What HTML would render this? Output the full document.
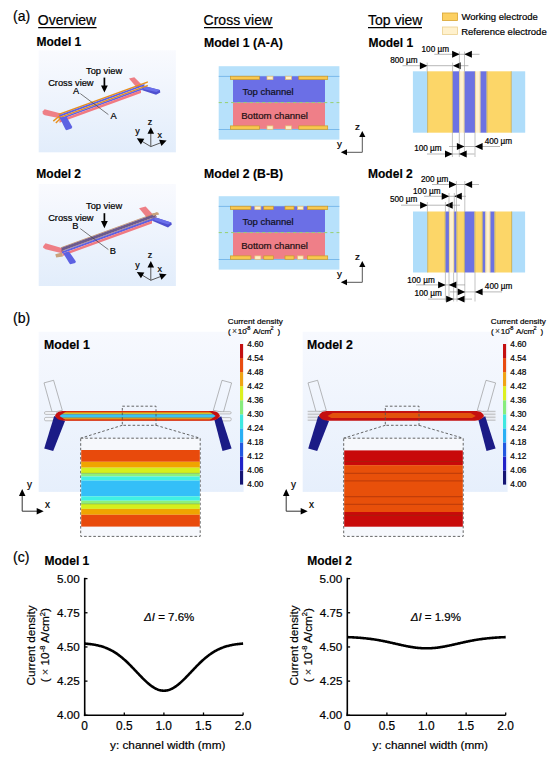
<!DOCTYPE html>
<html><head><meta charset="utf-8"><style>
html,body{margin:0;padding:0;background:#fff;}
svg{display:block;font-family:"Liberation Sans", sans-serif;}
</style></head><body>
<svg width="550" height="764" viewBox="0 0 550 764" font-family='"Liberation Sans", sans-serif'>
<rect x="0" y="0" width="550" height="764" fill="#fff"/>
<defs>
<linearGradient id="bg1" x1="0" y1="0" x2="0" y2="1"><stop offset="0" stop-color="#f9fafe"/><stop offset="1" stop-color="#e2edfb"/></linearGradient>
<linearGradient id="bg2" x1="0" y1="0" x2="0" y2="1"><stop offset="0" stop-color="#f7f9fe"/><stop offset="1" stop-color="#e6effc"/></linearGradient>
</defs>
<text x="13.06" y="20.60" font-size="14.0" font-weight="normal" font-style="normal" text-anchor="start" fill="#000" stroke="#000" stroke-width="0.2" >(a)</text>
<text x="37.80" y="25.10" font-size="14.0" font-weight="normal" font-style="normal" text-anchor="start" fill="#000" stroke="#000" stroke-width="0.2" >Overview</text>
<line x1="38.20" y1="27.60" x2="96.60" y2="27.60" stroke="#000" stroke-width="1.1" />
<text x="203.60" y="25.10" font-size="14.0" font-weight="normal" font-style="normal" text-anchor="start" fill="#000" stroke="#000" stroke-width="0.2" >Cross view</text>
<line x1="204.00" y1="27.60" x2="272.80" y2="27.60" stroke="#000" stroke-width="1.1" />
<text x="368.02" y="25.10" font-size="14.0" font-weight="normal" font-style="normal" text-anchor="start" fill="#000" stroke="#000" stroke-width="0.2" >Top view</text>
<line x1="368.00" y1="27.60" x2="422.00" y2="27.60" stroke="#000" stroke-width="1.1" />
<rect x="442.50" y="13.00" width="15.00" height="7.50" fill="#fcd062" stroke="#d8a431" stroke-width="0.8" />
<text x="461.40" y="20.40" font-size="9.5" font-weight="normal" font-style="normal" text-anchor="start" fill="#000" stroke="#000" stroke-width="0.2" >Working electrode</text>
<rect x="442.50" y="27.00" width="15.00" height="7.50" fill="#fff1cd" stroke="#ecd08e" stroke-width="0.8" />
<text x="461.14" y="34.50" font-size="9.5" font-weight="normal" font-style="normal" text-anchor="start" fill="#000" stroke="#000" stroke-width="0.2" >Reference electrode</text>
<text x="36.56" y="46.30" font-size="12.0" font-weight="bold" font-style="normal" text-anchor="start" fill="#000" stroke="#000" stroke-width="0.15" >Model 1</text>
<text x="203.94" y="46.50" font-size="12.25" font-weight="bold" font-style="normal" text-anchor="start" fill="#000" stroke="#000" stroke-width="0.15" >Model 1 (A-A)</text>
<text x="368.46" y="46.70" font-size="12.0" font-weight="bold" font-style="normal" text-anchor="start" fill="#000" stroke="#000" stroke-width="0.15" >Model 1</text>
<text x="36.36" y="178.20" font-size="12.0" font-weight="bold" font-style="normal" text-anchor="start" fill="#000" stroke="#000" stroke-width="0.15" >Model 2</text>
<text x="204.04" y="178.40" font-size="12.25" font-weight="bold" font-style="normal" text-anchor="start" fill="#000" stroke="#000" stroke-width="0.15" >Model 2 (B-B)</text>
<text x="368.06" y="178.20" font-size="12.0" font-weight="bold" font-style="normal" text-anchor="start" fill="#000" stroke="#000" stroke-width="0.15" >Model 2</text>
<rect x="38.70" y="50.30" width="137.20" height="102.00" fill="url(#bg1)" stroke="none" stroke-width="0" />
<polygon points="42.60,111.60 44.60,109.30 61.00,113.60 61.00,118.60 44.80,115.30 42.80,113.90" fill="#ee7f86" stroke="none" stroke-width="0" />
<polygon points="129.00,78.50 134.30,77.20 141.80,84.80 137.50,88.50" fill="#ee7f86" stroke="none" stroke-width="0" />
<polygon points="142.30,85.60 159.90,90.00 160.30,92.40 156.00,94.80 142.30,90.20" fill="#4f50cf" stroke="none" stroke-width="0" />
<polygon points="142.30,85.60 159.90,90.00 156.45,92.00 142.30,89.00" fill="#6a6fea" stroke="none" stroke-width="0" />
<polygon points="58.50,113.75 147.80,81.24 147.80,82.74 58.50,115.25" fill="#e8901c" stroke="none" stroke-width="0" />
<polygon points="59.20,114.99 144.50,83.94 144.50,85.84 59.20,116.89" fill="#5d61e2" stroke="none" stroke-width="0" />
<polygon points="58.50,117.15 147.80,84.64 147.80,86.14 58.50,118.65" fill="#e8901c" stroke="none" stroke-width="0" />
<polygon points="59.20,118.39 144.00,87.52 144.00,89.22 59.20,120.09" fill="#5d61e2" stroke="none" stroke-width="0" />
<polygon points="59.50,119.98 141.00,90.32 141.00,93.02 59.50,122.68" fill="#f07a82" stroke="none" stroke-width="0" />
<line x1="59.20" y1="116.20" x2="53.30" y2="121.10" stroke="#e8901c" stroke-width="1.4" />
<line x1="60.40" y1="118.60" x2="55.80" y2="123.00" stroke="#e8901c" stroke-width="1.4" />
<polygon points="59.60,117.60 66.60,116.80 72.30,127.00 71.50,128.60 66.50,130.20 65.50,129.60" fill="#5d61e2" stroke="none" stroke-width="0" />
<line x1="80.30" y1="93.60" x2="108.40" y2="114.60" stroke="#444" stroke-width="0.7" />
<text x="72.90" y="94.10" font-size="9.3" font-weight="normal" font-style="normal" text-anchor="start" fill="#000" stroke="#000" stroke-width="0.2" >A</text>
<text x="110.60" y="118.80" font-size="9.3" font-weight="normal" font-style="normal" text-anchor="start" fill="#000" stroke="#000" stroke-width="0.2" >A</text>
<text x="86.01" y="74.30" font-size="9.3" font-weight="normal" font-style="normal" text-anchor="start" fill="#000" stroke="#000" stroke-width="0.2" >Top view</text>
<text x="48.13" y="85.50" font-size="9.3" font-weight="normal" font-style="normal" text-anchor="start" fill="#000" stroke="#000" stroke-width="0.2" >Cross view</text>
<line x1="104.40" y1="77.60" x2="104.40" y2="87.00" stroke="#000" stroke-width="1.7" />
<polygon points="104.40,92.60 101.00,85.40 107.80,85.40" fill="#000" stroke="none" stroke-width="0" />
<line x1="150.80" y1="146.60" x2="150.80" y2="132.00" stroke="#555" stroke-width="1.0" />
<polygon points="150.80,127.30 147.50,133.80 154.10,133.80" fill="#000" stroke="none" stroke-width="0" />
<line x1="150.80" y1="146.60" x2="141.09" y2="140.77" stroke="#555" stroke-width="1.0" />
<polygon points="136.80,138.20 144.33,138.87 140.93,144.53" fill="#000" stroke="none" stroke-width="0" />
<line x1="150.80" y1="146.60" x2="161.94" y2="142.30" stroke="#555" stroke-width="1.0" />
<polygon points="166.60,140.50 161.44,146.03 159.07,139.87" fill="#000" stroke="none" stroke-width="0" />
<text x="147.64" y="124.60" font-size="9.0" font-weight="normal" font-style="normal" text-anchor="start" fill="#000" stroke="#000" stroke-width="0.2" >z</text>
<text x="135.30" y="134.40" font-size="9.0" font-weight="normal" font-style="normal" text-anchor="start" fill="#000" stroke="#000" stroke-width="0.2" >y</text>
<text x="157.51" y="138.30" font-size="9.0" font-weight="normal" font-style="normal" text-anchor="start" fill="#000" stroke="#000" stroke-width="0.2" >x</text>
<rect x="38.70" y="184.00" width="137.20" height="102.00" fill="url(#bg1)" stroke="none" stroke-width="0" />
<polygon points="43.00,246.50 45.50,243.30 63.50,248.60 63.00,253.50 45.50,249.20 43.20,247.80" fill="#ee7f86" stroke="none" stroke-width="0" />
<polygon points="139.10,208.20 145.60,206.50 153.00,214.50 148.00,219.00" fill="#ee7f86" stroke="none" stroke-width="0" />
<polygon points="152.70,216.40 171.30,222.40 171.80,224.50 168.00,227.50 152.70,221.00" fill="#4f50cf" stroke="none" stroke-width="0" />
<polygon points="152.70,216.40 171.30,222.40 168.15,224.55 152.70,219.80" fill="#6a6fea" stroke="none" stroke-width="0" />
<polygon points="61.00,247.14 157.00,212.19 157.00,213.09 61.00,248.04" fill="#c89060" stroke="none" stroke-width="0" />
<polygon points="61.50,247.85 156.00,213.46 156.00,216.56 61.50,250.95" fill="#6c5a8c" stroke="none" stroke-width="0" />
<polygon points="61.00,251.14 157.00,216.19 157.00,216.89 61.00,251.84" fill="#9a6a70" stroke="none" stroke-width="0" />
<polygon points="62.00,251.47 154.50,217.80 154.50,219.90 62.00,253.57" fill="#5d61e2" stroke="none" stroke-width="0" />
<polygon points="62.50,253.39 152.00,220.81 152.00,223.51 62.50,256.09" fill="#f07a82" stroke="none" stroke-width="0" />
<polygon points="55.30,254.20 61.80,252.60 63.00,256.40 56.20,257.60" fill="#c9a27c" stroke="none" stroke-width="0" />
<polygon points="152.00,213.60 158.00,212.20 159.20,214.40 153.00,215.90" fill="#c9a27c" stroke="none" stroke-width="0" />
<polygon points="63.00,252.90 68.90,251.40 75.90,261.40 75.20,263.00 70.30,264.30 69.50,263.60" fill="#5d61e2" stroke="none" stroke-width="0" />
<line x1="80.30" y1="228.60" x2="108.40" y2="249.60" stroke="#444" stroke-width="0.7" />
<text x="72.16" y="229.10" font-size="9.3" font-weight="normal" font-style="normal" text-anchor="start" fill="#000" stroke="#000" stroke-width="0.2" >B</text>
<text x="109.86" y="253.80" font-size="9.3" font-weight="normal" font-style="normal" text-anchor="start" fill="#000" stroke="#000" stroke-width="0.2" >B</text>
<text x="86.01" y="209.30" font-size="9.3" font-weight="normal" font-style="normal" text-anchor="start" fill="#000" stroke="#000" stroke-width="0.2" >Top view</text>
<text x="48.13" y="220.50" font-size="9.3" font-weight="normal" font-style="normal" text-anchor="start" fill="#000" stroke="#000" stroke-width="0.2" >Cross view</text>
<line x1="104.40" y1="213.20" x2="104.40" y2="222.60" stroke="#000" stroke-width="1.7" />
<polygon points="104.40,228.20 101.00,221.00 107.80,221.00" fill="#000" stroke="none" stroke-width="0" />
<line x1="150.80" y1="280.30" x2="150.80" y2="265.70" stroke="#555" stroke-width="1.0" />
<polygon points="150.80,261.00 147.50,267.50 154.10,267.50" fill="#000" stroke="none" stroke-width="0" />
<line x1="150.80" y1="280.30" x2="141.09" y2="274.47" stroke="#555" stroke-width="1.0" />
<polygon points="136.80,271.90 144.33,272.57 140.93,278.23" fill="#000" stroke="none" stroke-width="0" />
<line x1="150.80" y1="280.30" x2="161.94" y2="276.00" stroke="#555" stroke-width="1.0" />
<polygon points="166.60,274.20 161.44,279.73 159.07,273.57" fill="#000" stroke="none" stroke-width="0" />
<text x="147.64" y="258.30" font-size="9.0" font-weight="normal" font-style="normal" text-anchor="start" fill="#000" stroke="#000" stroke-width="0.2" >z</text>
<text x="135.30" y="268.10" font-size="9.0" font-weight="normal" font-style="normal" text-anchor="start" fill="#000" stroke="#000" stroke-width="0.2" >y</text>
<text x="157.51" y="272.00" font-size="9.0" font-weight="normal" font-style="normal" text-anchor="start" fill="#000" stroke="#000" stroke-width="0.2" >x</text>
<rect x="218.70" y="66.20" width="120.70" height="73.40" fill="#b7e1fb" stroke="none" stroke-width="0" />
<line x1="218.70" y1="76.40" x2="339.40" y2="76.40" stroke="#6aaee6" stroke-width="0.8" />
<line x1="218.70" y1="129.50" x2="339.40" y2="129.50" stroke="#6aaee6" stroke-width="0.8" />
<rect x="233.00" y="76.40" width="92.00" height="26.20" fill="#6b6fe6" stroke="none" stroke-width="0" />
<rect x="233.00" y="102.60" width="92.00" height="26.30" fill="#ef7f88" stroke="none" stroke-width="0" />
<line x1="218.70" y1="102.60" x2="339.40" y2="102.60" stroke="#98d070" stroke-width="1.0" stroke-dasharray="3.2,3"/>
<rect x="230.40" y="76.20" width="29.10" height="3.40" fill="#f9c84e" stroke="#c99a2a" stroke-width="0.7" />
<rect x="230.40" y="125.90" width="29.10" height="3.40" fill="#f9c84e" stroke="#c99a2a" stroke-width="0.7" />
<rect x="267.00" y="76.20" width="6.00" height="3.40" fill="#fff0c8" stroke="#e6c070" stroke-width="0.7" />
<rect x="267.00" y="125.90" width="6.00" height="3.40" fill="#fff0c8" stroke="#e6c070" stroke-width="0.7" />
<rect x="285.50" y="76.20" width="6.00" height="3.40" fill="#fff0c8" stroke="#e6c070" stroke-width="0.7" />
<rect x="285.50" y="125.90" width="6.00" height="3.40" fill="#fff0c8" stroke="#e6c070" stroke-width="0.7" />
<rect x="298.80" y="76.20" width="28.90" height="3.40" fill="#f9c84e" stroke="#c99a2a" stroke-width="0.7" />
<rect x="298.80" y="125.90" width="28.90" height="3.40" fill="#f9c84e" stroke="#c99a2a" stroke-width="0.7" />
<text x="242.51" y="94.90" font-size="9.5" font-weight="normal" font-style="normal" text-anchor="start" fill="#101020" stroke="#101020" stroke-width="0.2" >Top channel</text>
<text x="241.23" y="118.50" font-size="9.6" font-weight="normal" font-style="normal" text-anchor="start" fill="#201012" stroke="#201012" stroke-width="0.2" >Bottom channel</text>
<line x1="362.30" y1="152.30" x2="362.30" y2="136.00" stroke="#555" stroke-width="1.0" />
<line x1="362.30" y1="152.30" x2="346.50" y2="152.30" stroke="#555" stroke-width="1.0" />
<polygon points="362.30,131.10 359.20,137.10 365.40,137.10" fill="#000" stroke="none" stroke-width="0" />
<polygon points="340.80,152.30 347.00,149.30 347.00,155.30" fill="#000" stroke="none" stroke-width="0" />
<text x="354.91" y="129.60" font-size="9.8" font-weight="normal" font-style="normal" text-anchor="start" fill="#000" stroke="#000" stroke-width="0.2" >z</text>
<text x="337.10" y="147.30" font-size="9.8" font-weight="normal" font-style="normal" text-anchor="start" fill="#000" stroke="#000" stroke-width="0.2" >y</text>
<rect x="218.70" y="196.20" width="120.70" height="73.40" fill="#b7e1fb" stroke="none" stroke-width="0" />
<line x1="218.70" y1="206.40" x2="339.40" y2="206.40" stroke="#6aaee6" stroke-width="0.8" />
<line x1="218.70" y1="259.50" x2="339.40" y2="259.50" stroke="#6aaee6" stroke-width="0.8" />
<rect x="233.00" y="206.40" width="92.00" height="26.20" fill="#6b6fe6" stroke="none" stroke-width="0" />
<rect x="233.00" y="232.60" width="92.00" height="26.30" fill="#ef7f88" stroke="none" stroke-width="0" />
<line x1="218.70" y1="232.60" x2="339.40" y2="232.60" stroke="#98d070" stroke-width="1.0" stroke-dasharray="3.2,3"/>
<rect x="230.40" y="206.20" width="20.50" height="3.40" fill="#f9c84e" stroke="#c99a2a" stroke-width="0.7" />
<rect x="230.40" y="255.90" width="20.50" height="3.40" fill="#f9c84e" stroke="#c99a2a" stroke-width="0.7" />
<rect x="254.80" y="206.20" width="6.10" height="3.40" fill="#fff0c8" stroke="#e6c070" stroke-width="0.7" />
<rect x="254.80" y="255.90" width="6.10" height="3.40" fill="#fff0c8" stroke="#e6c070" stroke-width="0.7" />
<rect x="263.80" y="206.20" width="9.50" height="3.40" fill="#f9c84e" stroke="#c99a2a" stroke-width="0.7" />
<rect x="263.80" y="255.90" width="9.50" height="3.40" fill="#f9c84e" stroke="#c99a2a" stroke-width="0.7" />
<rect x="285.00" y="206.20" width="9.00" height="3.40" fill="#f9c84e" stroke="#c99a2a" stroke-width="0.7" />
<rect x="285.00" y="255.90" width="9.00" height="3.40" fill="#f9c84e" stroke="#c99a2a" stroke-width="0.7" />
<rect x="297.60" y="206.20" width="5.60" height="3.40" fill="#fff0c8" stroke="#e6c070" stroke-width="0.7" />
<rect x="297.60" y="255.90" width="5.60" height="3.40" fill="#fff0c8" stroke="#e6c070" stroke-width="0.7" />
<rect x="307.50" y="206.20" width="20.20" height="3.40" fill="#f9c84e" stroke="#c99a2a" stroke-width="0.7" />
<rect x="307.50" y="255.90" width="20.20" height="3.40" fill="#f9c84e" stroke="#c99a2a" stroke-width="0.7" />
<text x="242.51" y="224.90" font-size="9.5" font-weight="normal" font-style="normal" text-anchor="start" fill="#101020" stroke="#101020" stroke-width="0.2" >Top channel</text>
<text x="241.23" y="248.50" font-size="9.6" font-weight="normal" font-style="normal" text-anchor="start" fill="#201012" stroke="#201012" stroke-width="0.2" >Bottom channel</text>
<line x1="362.30" y1="282.30" x2="362.30" y2="266.00" stroke="#555" stroke-width="1.0" />
<line x1="362.30" y1="282.30" x2="346.50" y2="282.30" stroke="#555" stroke-width="1.0" />
<polygon points="362.30,261.10 359.20,267.10 365.40,267.10" fill="#000" stroke="none" stroke-width="0" />
<polygon points="340.80,282.30 347.00,279.30 347.00,285.30" fill="#000" stroke="none" stroke-width="0" />
<text x="354.91" y="259.60" font-size="9.8" font-weight="normal" font-style="normal" text-anchor="start" fill="#000" stroke="#000" stroke-width="0.2" >z</text>
<text x="337.10" y="277.30" font-size="9.8" font-weight="normal" font-style="normal" text-anchor="start" fill="#000" stroke="#000" stroke-width="0.2" >y</text>
<rect x="412.90" y="71.30" width="14.40" height="61.40" fill="#afddfa" stroke="none" stroke-width="0" />
<rect x="427.30" y="71.30" width="25.40" height="61.40" fill="#fcd668" stroke="none" stroke-width="0" />
<rect x="452.70" y="71.30" width="6.60" height="61.40" fill="#6c72e2" stroke="none" stroke-width="0" />
<rect x="459.30" y="71.30" width="5.10" height="61.40" fill="#fff1d0" stroke="none" stroke-width="0" />
<rect x="464.40" y="71.30" width="10.60" height="61.40" fill="#6c72e2" stroke="none" stroke-width="0" />
<rect x="475.00" y="71.30" width="5.40" height="61.40" fill="#fff1d0" stroke="none" stroke-width="0" />
<rect x="480.40" y="71.30" width="6.30" height="61.40" fill="#6c72e2" stroke="none" stroke-width="0" />
<rect x="486.70" y="71.30" width="24.90" height="61.40" fill="#fcd668" stroke="none" stroke-width="0" />
<rect x="511.60" y="71.30" width="13.60" height="61.40" fill="#afddfa" stroke="none" stroke-width="0" />
<line x1="427.60" y1="71.30" x2="427.60" y2="132.70" stroke="#a89a5a" stroke-width="0.6" />
<line x1="452.40" y1="71.30" x2="452.40" y2="132.70" stroke="#a89a5a" stroke-width="0.6" />
<line x1="459.60" y1="71.30" x2="459.60" y2="132.70" stroke="#d8bd6a" stroke-width="0.6" />
<line x1="464.10" y1="71.30" x2="464.10" y2="132.70" stroke="#d8bd6a" stroke-width="0.6" />
<line x1="475.30" y1="71.30" x2="475.30" y2="132.70" stroke="#d8bd6a" stroke-width="0.6" />
<line x1="480.10" y1="71.30" x2="480.10" y2="132.70" stroke="#d8bd6a" stroke-width="0.6" />
<line x1="487.00" y1="71.30" x2="487.00" y2="132.70" stroke="#a89a5a" stroke-width="0.6" />
<line x1="511.30" y1="71.30" x2="511.30" y2="132.70" stroke="#a89a5a" stroke-width="0.6" />
<rect x="413.00" y="211.50" width="14.40" height="61.00" fill="#afddfa" stroke="none" stroke-width="0" />
<rect x="427.40" y="211.50" width="18.00" height="61.00" fill="#fcd668" stroke="none" stroke-width="0" />
<rect x="445.40" y="211.50" width="3.60" height="61.00" fill="#6c72e2" stroke="none" stroke-width="0" />
<rect x="449.00" y="211.50" width="5.10" height="61.00" fill="#fff1d0" stroke="none" stroke-width="0" />
<rect x="454.10" y="211.50" width="2.50" height="61.00" fill="#6c72e2" stroke="none" stroke-width="0" />
<rect x="456.60" y="211.50" width="8.10" height="61.00" fill="#fcd668" stroke="none" stroke-width="0" />
<rect x="464.70" y="211.50" width="9.90" height="61.00" fill="#6c72e2" stroke="none" stroke-width="0" />
<rect x="474.60" y="211.50" width="8.00" height="61.00" fill="#fcd668" stroke="none" stroke-width="0" />
<rect x="482.60" y="211.50" width="2.90" height="61.00" fill="#6c72e2" stroke="none" stroke-width="0" />
<rect x="485.50" y="211.50" width="4.80" height="61.00" fill="#fff1d0" stroke="none" stroke-width="0" />
<rect x="490.30" y="211.50" width="4.30" height="61.00" fill="#6c72e2" stroke="none" stroke-width="0" />
<rect x="494.60" y="211.50" width="17.40" height="61.00" fill="#fcd668" stroke="none" stroke-width="0" />
<rect x="512.00" y="211.50" width="13.10" height="61.00" fill="#afddfa" stroke="none" stroke-width="0" />
<line x1="427.70" y1="211.50" x2="427.70" y2="272.50" stroke="#a89a5a" stroke-width="0.6" />
<line x1="445.10" y1="211.50" x2="445.10" y2="272.50" stroke="#a89a5a" stroke-width="0.6" />
<line x1="449.30" y1="211.50" x2="449.30" y2="272.50" stroke="#d8bd6a" stroke-width="0.6" />
<line x1="453.80" y1="211.50" x2="453.80" y2="272.50" stroke="#d8bd6a" stroke-width="0.6" />
<line x1="456.90" y1="211.50" x2="456.90" y2="272.50" stroke="#a89a5a" stroke-width="0.6" />
<line x1="464.40" y1="211.50" x2="464.40" y2="272.50" stroke="#a89a5a" stroke-width="0.6" />
<line x1="474.90" y1="211.50" x2="474.90" y2="272.50" stroke="#a89a5a" stroke-width="0.6" />
<line x1="482.30" y1="211.50" x2="482.30" y2="272.50" stroke="#a89a5a" stroke-width="0.6" />
<line x1="485.80" y1="211.50" x2="485.80" y2="272.50" stroke="#d8bd6a" stroke-width="0.6" />
<line x1="490.00" y1="211.50" x2="490.00" y2="272.50" stroke="#d8bd6a" stroke-width="0.6" />
<line x1="494.90" y1="211.50" x2="494.90" y2="272.50" stroke="#a89a5a" stroke-width="0.6" />
<line x1="511.70" y1="211.50" x2="511.70" y2="272.50" stroke="#a89a5a" stroke-width="0.6" />
<text x="421.54" y="51.70" font-size="8.2" font-weight="normal" font-style="normal" text-anchor="start" fill="#000" stroke="#000" stroke-width="0.2" >100 µm</text>
<line x1="434.30" y1="54.30" x2="479.50" y2="54.30" stroke="#9a9a9a" stroke-width="0.7" />
<polygon points="459.70,54.30 452.10,50.85 452.10,57.75" fill="#000" stroke="none" stroke-width="0" />
<polygon points="464.30,54.30 471.90,50.85 471.90,57.75" fill="#000" stroke="none" stroke-width="0" />
<text x="390.17" y="62.50" font-size="8.2" font-weight="normal" font-style="normal" text-anchor="start" fill="#000" stroke="#000" stroke-width="0.2" >800 µm</text>
<line x1="402.50" y1="65.70" x2="468.40" y2="65.70" stroke="#9a9a9a" stroke-width="0.7" />
<polygon points="427.50,65.70 419.90,62.25 419.90,69.15" fill="#000" stroke="none" stroke-width="0" />
<polygon points="453.00,65.70 460.60,62.25 460.60,69.15" fill="#000" stroke="none" stroke-width="0" />
<line x1="427.20" y1="62.60" x2="427.20" y2="71.30" stroke="#9a9a9a" stroke-width="0.6" />
<line x1="452.60" y1="62.60" x2="452.60" y2="71.30" stroke="#9a9a9a" stroke-width="0.6" />
<line x1="459.40" y1="51.60" x2="459.40" y2="71.30" stroke="#9a9a9a" stroke-width="0.6" />
<line x1="464.50" y1="51.60" x2="464.50" y2="71.30" stroke="#9a9a9a" stroke-width="0.6" />
<line x1="452.40" y1="132.70" x2="452.40" y2="157.00" stroke="#9a9a9a" stroke-width="0.6" />
<line x1="459.30" y1="132.70" x2="459.30" y2="157.00" stroke="#9a9a9a" stroke-width="0.6" />
<line x1="464.40" y1="132.70" x2="464.40" y2="157.00" stroke="#9a9a9a" stroke-width="0.6" />
<line x1="475.00" y1="132.70" x2="475.00" y2="157.00" stroke="#9a9a9a" stroke-width="0.6" />
<text x="484.64" y="143.80" font-size="8.2" font-weight="normal" font-style="normal" text-anchor="start" fill="#000" stroke="#000" stroke-width="0.2" >400 µm</text>
<line x1="449.00" y1="146.50" x2="500.00" y2="146.50" stroke="#9a9a9a" stroke-width="0.7" />
<polygon points="464.50,146.50 456.90,143.05 456.90,149.95" fill="#000" stroke="none" stroke-width="0" />
<polygon points="475.00,146.50 482.60,143.05 482.60,149.95" fill="#000" stroke="none" stroke-width="0" />
<text x="414.14" y="151.00" font-size="8.2" font-weight="normal" font-style="normal" text-anchor="start" fill="#000" stroke="#000" stroke-width="0.2" >100 µm</text>
<line x1="427.00" y1="154.00" x2="474.50" y2="154.00" stroke="#9a9a9a" stroke-width="0.7" />
<polygon points="452.60,154.00 445.00,150.55 445.00,157.45" fill="#000" stroke="none" stroke-width="0" />
<polygon points="459.10,154.00 466.70,150.55 466.70,157.45" fill="#000" stroke="none" stroke-width="0" />
<text x="420.89" y="182.10" font-size="8.2" font-weight="normal" font-style="normal" text-anchor="start" fill="#000" stroke="#000" stroke-width="0.2" >200 µm</text>
<line x1="432.00" y1="184.50" x2="479.00" y2="184.50" stroke="#9a9a9a" stroke-width="0.7" />
<polygon points="456.60,184.50 449.00,181.05 449.00,187.95" fill="#000" stroke="none" stroke-width="0" />
<polygon points="464.50,184.50 472.10,181.05 472.10,187.95" fill="#000" stroke="none" stroke-width="0" />
<text x="413.04" y="193.90" font-size="8.2" font-weight="normal" font-style="normal" text-anchor="start" fill="#000" stroke="#000" stroke-width="0.2" >100 µm</text>
<line x1="424.00" y1="196.30" x2="466.00" y2="196.30" stroke="#9a9a9a" stroke-width="0.7" />
<polygon points="449.30,196.30 441.70,192.85 441.70,199.75" fill="#000" stroke="none" stroke-width="0" />
<polygon points="454.20,196.30 461.80,192.85 461.80,199.75" fill="#000" stroke="none" stroke-width="0" />
<text x="389.92" y="202.10" font-size="8.2" font-weight="normal" font-style="normal" text-anchor="start" fill="#000" stroke="#000" stroke-width="0.2" >500 µm</text>
<line x1="401.00" y1="205.20" x2="460.00" y2="205.20" stroke="#9a9a9a" stroke-width="0.7" />
<polygon points="427.70,205.20 420.10,201.75 420.10,208.65" fill="#000" stroke="none" stroke-width="0" />
<polygon points="445.10,205.20 452.70,201.75 452.70,208.65" fill="#000" stroke="none" stroke-width="0" />
<line x1="427.40" y1="202.00" x2="427.40" y2="211.50" stroke="#9a9a9a" stroke-width="0.6" />
<line x1="445.40" y1="202.00" x2="445.40" y2="211.50" stroke="#9a9a9a" stroke-width="0.6" />
<line x1="449.00" y1="193.00" x2="449.00" y2="211.50" stroke="#9a9a9a" stroke-width="0.6" />
<line x1="454.30" y1="193.00" x2="454.30" y2="211.50" stroke="#9a9a9a" stroke-width="0.6" />
<line x1="456.40" y1="181.00" x2="456.40" y2="211.50" stroke="#9a9a9a" stroke-width="0.6" />
<line x1="464.80" y1="181.00" x2="464.80" y2="211.50" stroke="#9a9a9a" stroke-width="0.6" />
<line x1="445.40" y1="272.50" x2="445.40" y2="301.50" stroke="#9a9a9a" stroke-width="0.6" />
<line x1="449.00" y1="272.50" x2="449.00" y2="301.50" stroke="#9a9a9a" stroke-width="0.6" />
<line x1="453.60" y1="272.50" x2="453.60" y2="301.50" stroke="#9a9a9a" stroke-width="0.6" />
<line x1="457.00" y1="272.50" x2="457.00" y2="301.50" stroke="#9a9a9a" stroke-width="0.6" />
<line x1="464.80" y1="272.50" x2="464.80" y2="301.50" stroke="#9a9a9a" stroke-width="0.6" />
<line x1="475.00" y1="272.50" x2="475.00" y2="301.50" stroke="#9a9a9a" stroke-width="0.6" />
<text x="407.24" y="282.80" font-size="8.2" font-weight="normal" font-style="normal" text-anchor="start" fill="#000" stroke="#000" stroke-width="0.2" >100 µm</text>
<line x1="416.00" y1="284.90" x2="465.00" y2="284.90" stroke="#9a9a9a" stroke-width="0.7" />
<polygon points="445.70,284.90 438.10,281.45 438.10,288.35" fill="#000" stroke="none" stroke-width="0" />
<polygon points="448.80,284.90 456.40,281.45 456.40,288.35" fill="#000" stroke="none" stroke-width="0" />
<text x="484.84" y="289.40" font-size="8.2" font-weight="normal" font-style="normal" text-anchor="start" fill="#000" stroke="#000" stroke-width="0.2" >400 µm</text>
<line x1="450.00" y1="291.90" x2="502.00" y2="291.90" stroke="#9a9a9a" stroke-width="0.7" />
<polygon points="465.30,291.90 457.70,288.45 457.70,295.35" fill="#000" stroke="none" stroke-width="0" />
<polygon points="475.00,291.90 482.60,288.45 482.60,295.35" fill="#000" stroke="none" stroke-width="0" />
<text x="414.44" y="295.90" font-size="8.2" font-weight="normal" font-style="normal" text-anchor="start" fill="#000" stroke="#000" stroke-width="0.2" >100 µm</text>
<line x1="428.00" y1="299.10" x2="472.00" y2="299.10" stroke="#9a9a9a" stroke-width="0.7" />
<polygon points="453.80,299.10 446.20,295.65 446.20,302.55" fill="#000" stroke="none" stroke-width="0" />
<polygon points="456.90,299.10 464.50,295.65 464.50,302.55" fill="#000" stroke="none" stroke-width="0" />
<text x="13.05" y="322.60" font-size="14.1" font-weight="normal" font-style="normal" text-anchor="start" fill="#000" stroke="#000" stroke-width="0.2" >(b)</text>
<rect x="38.70" y="331.80" width="204.90" height="160.10" fill="url(#bg2)" stroke="none" stroke-width="0" />
<text x="43.94" y="349.20" font-size="12.3" font-weight="bold" font-style="normal" text-anchor="start" fill="#000" stroke="#000" stroke-width="0.15" >Model 1</text>
<polygon points="62.30,410.40 53.60,380.30 44.00,382.90 52.20,412.40" fill="none" stroke="#8a8a8a" stroke-width="0.6" />
<polygon points="213.30,410.40 222.00,380.30 231.60,382.90 223.40,412.40" fill="none" stroke="#8a8a8a" stroke-width="0.6" />
<rect x="44.50" y="411.60" width="12.50" height="2.80" fill="#f4f6fa" stroke="#999" stroke-width="0.6" rx="1.3"/>
<rect x="44.50" y="417.40" width="11.00" height="3.40" fill="#f4f6fa" stroke="#999" stroke-width="0.6" rx="1.3"/>
<rect x="217.50" y="411.70" width="13.70" height="2.20" fill="#f4f6fa" stroke="#999" stroke-width="0.6" rx="1.3"/>
<rect x="220.80" y="417.60" width="10.40" height="3.30" fill="#f4f6fa" stroke="#999" stroke-width="0.6" rx="1.3"/>
<polygon points="54.20,416.00 65.00,421.00 53.20,451.00 44.20,448.60" fill="#1b1b86" stroke="none" stroke-width="0" />
<polygon points="214.40,420.00 221.20,416.30 231.60,448.40 222.50,451.00" fill="#1b1b86" stroke="none" stroke-width="0" />
<path d="M54.9,416.0 C56.9,411.5 59.9,411.0 63.9,411.0 L211.0,411.0 C215.0,411.0 218.0,411.5 220.0,416.0 C218.0,419.8 214.0,420.8 209.0,420.8 L65.9,420.8 C60.9,420.8 56.9,419.8 54.9,416.0 Z" fill="#c41010"/>
<polygon points="66.40,411.39 208.89,411.39 210.22,412.27 65.05,412.27" fill="#e84c10" stroke="none" stroke-width="0" />
<polygon points="65.05,412.27 210.22,412.27 211.41,413.06 63.85,413.06" fill="#f0a414" stroke="none" stroke-width="0" />
<polygon points="63.85,413.06 211.41,413.06 212.30,413.65 62.95,413.65" fill="#dcf020" stroke="none" stroke-width="0" />
<polygon points="62.95,413.65 212.30,413.65 212.89,414.04 62.35,414.04" fill="#88ec7c" stroke="none" stroke-width="0" />
<polygon points="62.35,414.04 212.89,414.04 213.63,414.53 61.60,414.53" fill="#40e8e0" stroke="none" stroke-width="0" />
<polygon points="61.60,414.53 213.63,414.53 215.70,415.90 213.33,417.47 61.90,417.47 59.50,415.90" fill="#38c4f4" stroke="none" stroke-width="0" />
<polygon points="61.90,417.47 213.33,417.47 212.74,417.86 62.50,417.86" fill="#40e8e0" stroke="none" stroke-width="0" />
<polygon points="62.50,417.86 212.74,417.86 212.15,418.25 63.10,418.25" fill="#88ec7c" stroke="none" stroke-width="0" />
<polygon points="63.10,418.25 212.15,418.25 211.26,418.84 64.00,418.84" fill="#dcf020" stroke="none" stroke-width="0" />
<polygon points="64.00,418.84 211.26,418.84 210.08,419.62 65.20,419.62" fill="#f0a414" stroke="none" stroke-width="0" />
<polygon points="65.20,419.62 210.08,419.62 208.89,420.41 66.40,420.41" fill="#e84c10" stroke="none" stroke-width="0" />
<rect x="122.30" y="406.20" width="33.70" height="19.10" fill="none" stroke="#555" stroke-width="0.9" stroke-dasharray="2.6,2"/>
<line x1="122.30" y1="425.30" x2="80.70" y2="438.20" stroke="#555" stroke-width="0.9" stroke-dasharray="2.6,2"/>
<line x1="156.00" y1="425.30" x2="200.20" y2="438.20" stroke="#555" stroke-width="0.9" stroke-dasharray="2.6,2"/>
<rect x="80.70" y="438.20" width="119.50" height="98.20" fill="#f6f8fc" stroke="#555" stroke-width="0.9" stroke-dasharray="2.6,2"/>
<rect x="81.20" y="450.00" width="118.60" height="11.80" fill="#e84a0c" stroke="none" stroke-width="0" />
<rect x="81.20" y="461.80" width="118.60" height="5.90" fill="#f0a400" stroke="none" stroke-width="0" />
<rect x="81.20" y="467.70" width="118.60" height="5.60" fill="#d4f01c" stroke="none" stroke-width="0" />
<rect x="81.20" y="473.30" width="118.60" height="3.20" fill="#8cf07c" stroke="none" stroke-width="0" />
<rect x="81.20" y="476.50" width="118.60" height="4.10" fill="#40f0e4" stroke="none" stroke-width="0" />
<rect x="81.20" y="480.60" width="118.60" height="15.70" fill="#34bff8" stroke="none" stroke-width="0" />
<rect x="81.20" y="496.30" width="118.60" height="4.40" fill="#40f0e4" stroke="none" stroke-width="0" />
<rect x="81.20" y="500.70" width="118.60" height="3.20" fill="#8cf07c" stroke="none" stroke-width="0" />
<rect x="81.20" y="503.90" width="118.60" height="5.00" fill="#d4f01c" stroke="none" stroke-width="0" />
<rect x="81.20" y="508.90" width="118.60" height="5.90" fill="#f0a400" stroke="none" stroke-width="0" />
<rect x="81.20" y="514.80" width="118.60" height="11.80" fill="#e84a0c" stroke="none" stroke-width="0" />
<line x1="81.20" y1="473.30" x2="199.80" y2="473.30" stroke="#7aa84a" stroke-width="0.6" />
<line x1="81.20" y1="503.90" x2="199.80" y2="503.90" stroke="#7aa84a" stroke-width="0.6" />
<rect x="240.00" y="470.54" width="3.10" height="14.06" fill="#161674" stroke="none" stroke-width="0" />
<rect x="240.00" y="456.48" width="3.10" height="14.06" fill="#2222c8" stroke="none" stroke-width="0" />
<rect x="240.00" y="442.42" width="3.10" height="14.06" fill="#2458e0" stroke="none" stroke-width="0" />
<rect x="240.00" y="428.36" width="3.10" height="14.06" fill="#2ab0f4" stroke="none" stroke-width="0" />
<rect x="240.00" y="414.30" width="3.10" height="14.06" fill="#40e8e0" stroke="none" stroke-width="0" />
<rect x="240.00" y="400.24" width="3.10" height="14.06" fill="#88ec7c" stroke="none" stroke-width="0" />
<rect x="240.00" y="386.18" width="3.10" height="14.06" fill="#dcf020" stroke="none" stroke-width="0" />
<rect x="240.00" y="372.12" width="3.10" height="14.06" fill="#f0a414" stroke="none" stroke-width="0" />
<rect x="240.00" y="358.06" width="3.10" height="14.06" fill="#e84c10" stroke="none" stroke-width="0" />
<rect x="240.00" y="344.00" width="3.10" height="14.06" fill="#c41010" stroke="none" stroke-width="0" />
<text x="247.33" y="347.10" font-size="8.3" font-weight="normal" font-style="normal" text-anchor="start" fill="#000" stroke="#000" stroke-width="0.2" >4.60</text>
<text x="247.33" y="361.07" font-size="8.3" font-weight="normal" font-style="normal" text-anchor="start" fill="#000" stroke="#000" stroke-width="0.2" >4.54</text>
<text x="247.33" y="375.04" font-size="8.3" font-weight="normal" font-style="normal" text-anchor="start" fill="#000" stroke="#000" stroke-width="0.2" >4.48</text>
<text x="247.33" y="389.01" font-size="8.3" font-weight="normal" font-style="normal" text-anchor="start" fill="#000" stroke="#000" stroke-width="0.2" >4.42</text>
<text x="247.33" y="402.98" font-size="8.3" font-weight="normal" font-style="normal" text-anchor="start" fill="#000" stroke="#000" stroke-width="0.2" >4.36</text>
<text x="247.33" y="416.95" font-size="8.3" font-weight="normal" font-style="normal" text-anchor="start" fill="#000" stroke="#000" stroke-width="0.2" >4.30</text>
<text x="247.33" y="430.92" font-size="8.3" font-weight="normal" font-style="normal" text-anchor="start" fill="#000" stroke="#000" stroke-width="0.2" >4.24</text>
<text x="247.33" y="444.89" font-size="8.3" font-weight="normal" font-style="normal" text-anchor="start" fill="#000" stroke="#000" stroke-width="0.2" >4.18</text>
<text x="247.33" y="458.86" font-size="8.3" font-weight="normal" font-style="normal" text-anchor="start" fill="#000" stroke="#000" stroke-width="0.2" >4.12</text>
<text x="247.33" y="472.83" font-size="8.3" font-weight="normal" font-style="normal" text-anchor="start" fill="#000" stroke="#000" stroke-width="0.2" >4.06</text>
<text x="247.33" y="486.80" font-size="8.3" font-weight="normal" font-style="normal" text-anchor="start" fill="#000" stroke="#000" stroke-width="0.2" >4.00</text>
<text x="227.80" y="323.90" font-size="8.1" font-weight="normal" font-style="normal" text-anchor="start" fill="#000" stroke="#000" stroke-width="0.2" >Current density</text>
<text x="228.01" y="333.70" font-size="8.1" font-weight="normal" font-style="normal" text-anchor="start" fill="#000" stroke="#000" stroke-width="0.2" >(</text>
<text x="231.90" y="333.50" font-size="8.6" font-weight="normal" font-style="normal" text-anchor="start" fill="#444" stroke="#444" stroke-width="0.1" >×</text>
<text x="237.65" y="333.70" font-size="8.1" font-weight="normal" font-style="normal" text-anchor="start" fill="#000" stroke="#000" stroke-width="0.2" >10</text>
<text x="245.48" y="330.40" font-size="5.6" font-weight="normal" font-style="normal" text-anchor="start" fill="#000" stroke="#000" stroke-width="0.2" >-8</text>
<text x="252.90" y="333.70" font-size="8.1" font-weight="normal" font-style="normal" text-anchor="start" fill="#000" stroke="#000" stroke-width="0.2" >A/cm</text>
<text x="270.52" y="330.40" font-size="5.6" font-weight="normal" font-style="normal" text-anchor="start" fill="#000" stroke="#000" stroke-width="0.2" >2</text>
<text x="277.62" y="333.70" font-size="8.1" font-weight="normal" font-style="normal" text-anchor="start" fill="#000" stroke="#000" stroke-width="0.2" >)</text>
<line x1="22.20" y1="511.20" x2="22.20" y2="495.00" stroke="#333" stroke-width="1.0" />
<line x1="22.20" y1="511.20" x2="38.00" y2="511.20" stroke="#333" stroke-width="1.0" />
<polygon points="22.20,489.10 18.95,496.10 25.45,496.10" fill="#000" stroke="none" stroke-width="0" />
<polygon points="43.70,511.20 36.70,507.95 36.70,514.45" fill="#000" stroke="none" stroke-width="0" />
<text x="27.10" y="487.90" font-size="10" font-weight="normal" font-style="normal" text-anchor="start" fill="#000" stroke="#000" stroke-width="0.2" >y</text>
<text x="45.00" y="507.70" font-size="10" font-weight="normal" font-style="normal" text-anchor="start" fill="#000" stroke="#000" stroke-width="0.2" >x</text>
<rect x="302.70" y="331.80" width="204.90" height="160.10" fill="url(#bg2)" stroke="none" stroke-width="0" />
<text x="306.94" y="349.20" font-size="12.3" font-weight="bold" font-style="normal" text-anchor="start" fill="#000" stroke="#000" stroke-width="0.15" >Model 2</text>
<polygon points="326.30,410.40 317.60,380.30 308.00,382.90 316.20,412.40" fill="none" stroke="#8a8a8a" stroke-width="0.6" />
<polygon points="477.30,410.40 486.00,380.30 495.60,382.90 487.40,412.40" fill="none" stroke="#8a8a8a" stroke-width="0.6" />
<rect x="307.70" y="411.00" width="11.80" height="9.60" fill="#e9ecf2" stroke="none" stroke-width="0" />
<rect x="483.50" y="411.00" width="12.00" height="9.60" fill="#e9ecf2" stroke="none" stroke-width="0" />
<line x1="307.70" y1="411.30" x2="320.00" y2="411.30" stroke="#9a9a9a" stroke-width="0.6" />
<line x1="483.00" y1="411.30" x2="495.50" y2="411.30" stroke="#9a9a9a" stroke-width="0.6" />
<line x1="307.70" y1="414.20" x2="320.00" y2="414.20" stroke="#9a9a9a" stroke-width="0.6" />
<line x1="483.00" y1="414.20" x2="495.50" y2="414.20" stroke="#9a9a9a" stroke-width="0.6" />
<line x1="307.70" y1="417.20" x2="320.00" y2="417.20" stroke="#9a9a9a" stroke-width="0.6" />
<line x1="483.00" y1="417.20" x2="495.50" y2="417.20" stroke="#9a9a9a" stroke-width="0.6" />
<line x1="307.70" y1="420.20" x2="320.00" y2="420.20" stroke="#9a9a9a" stroke-width="0.6" />
<line x1="483.00" y1="420.20" x2="495.50" y2="420.20" stroke="#9a9a9a" stroke-width="0.6" />
<polygon points="318.20,416.00 329.00,421.00 317.20,451.00 308.20,448.60" fill="#1b1b86" stroke="none" stroke-width="0" />
<polygon points="478.40,420.00 485.20,416.30 495.60,448.40 486.50,451.00" fill="#1b1b86" stroke="none" stroke-width="0" />
<path d="M318.9,416.0 C320.9,411.5 323.9,411.0 327.9,411.0 L475.0,411.0 C479.0,411.0 482.0,411.5 484.0,416.0 C482.0,419.8 478.0,420.8 473.0,420.8 L329.9,420.8 C324.9,420.8 320.9,419.8 318.9,416.0 Z" fill="#c41010"/>
<polygon points="332.60,412.96 470.66,412.96 475.70,415.90 472.00,418.06 331.24,418.06 327.50,415.90" fill="#e2520c" stroke="none" stroke-width="0" />
<rect x="385.30" y="406.20" width="33.70" height="19.10" fill="none" stroke="#555" stroke-width="0.9" stroke-dasharray="2.6,2"/>
<line x1="385.30" y1="425.30" x2="343.70" y2="438.20" stroke="#555" stroke-width="0.9" stroke-dasharray="2.6,2"/>
<line x1="419.00" y1="425.30" x2="463.20" y2="438.20" stroke="#555" stroke-width="0.9" stroke-dasharray="2.6,2"/>
<rect x="343.70" y="438.20" width="119.50" height="98.20" fill="#f6f8fc" stroke="#555" stroke-width="0.9" stroke-dasharray="2.6,2"/>
<rect x="344.20" y="450.40" width="118.60" height="14.70" fill="#c80a0a" stroke="none" stroke-width="0" />
<rect x="344.20" y="465.10" width="118.60" height="46.90" fill="#e8500a" stroke="none" stroke-width="0" />
<rect x="344.20" y="512.00" width="118.60" height="14.70" fill="#c80a0a" stroke="none" stroke-width="0" />
<line x1="344.20" y1="461.50" x2="462.80" y2="461.50" stroke="#9a2a08" stroke-width="0.6" />
<line x1="344.20" y1="473.30" x2="462.80" y2="473.30" stroke="#9a2a08" stroke-width="0.6" />
<line x1="344.20" y1="480.90" x2="462.80" y2="480.90" stroke="#9a2a08" stroke-width="0.6" />
<line x1="344.20" y1="496.70" x2="462.80" y2="496.70" stroke="#9a2a08" stroke-width="0.6" />
<line x1="344.20" y1="504.30" x2="462.80" y2="504.30" stroke="#9a2a08" stroke-width="0.6" />
<line x1="344.20" y1="515.30" x2="462.80" y2="515.30" stroke="#9a2a08" stroke-width="0.6" />
<rect x="503.00" y="470.54" width="3.10" height="14.06" fill="#161674" stroke="none" stroke-width="0" />
<rect x="503.00" y="456.48" width="3.10" height="14.06" fill="#2222c8" stroke="none" stroke-width="0" />
<rect x="503.00" y="442.42" width="3.10" height="14.06" fill="#2458e0" stroke="none" stroke-width="0" />
<rect x="503.00" y="428.36" width="3.10" height="14.06" fill="#2ab0f4" stroke="none" stroke-width="0" />
<rect x="503.00" y="414.30" width="3.10" height="14.06" fill="#40e8e0" stroke="none" stroke-width="0" />
<rect x="503.00" y="400.24" width="3.10" height="14.06" fill="#88ec7c" stroke="none" stroke-width="0" />
<rect x="503.00" y="386.18" width="3.10" height="14.06" fill="#dcf020" stroke="none" stroke-width="0" />
<rect x="503.00" y="372.12" width="3.10" height="14.06" fill="#f0a414" stroke="none" stroke-width="0" />
<rect x="503.00" y="358.06" width="3.10" height="14.06" fill="#e84c10" stroke="none" stroke-width="0" />
<rect x="503.00" y="344.00" width="3.10" height="14.06" fill="#c41010" stroke="none" stroke-width="0" />
<text x="510.33" y="347.10" font-size="8.3" font-weight="normal" font-style="normal" text-anchor="start" fill="#000" stroke="#000" stroke-width="0.2" >4.60</text>
<text x="510.33" y="361.07" font-size="8.3" font-weight="normal" font-style="normal" text-anchor="start" fill="#000" stroke="#000" stroke-width="0.2" >4.54</text>
<text x="510.33" y="375.04" font-size="8.3" font-weight="normal" font-style="normal" text-anchor="start" fill="#000" stroke="#000" stroke-width="0.2" >4.48</text>
<text x="510.33" y="389.01" font-size="8.3" font-weight="normal" font-style="normal" text-anchor="start" fill="#000" stroke="#000" stroke-width="0.2" >4.42</text>
<text x="510.33" y="402.98" font-size="8.3" font-weight="normal" font-style="normal" text-anchor="start" fill="#000" stroke="#000" stroke-width="0.2" >4.36</text>
<text x="510.33" y="416.95" font-size="8.3" font-weight="normal" font-style="normal" text-anchor="start" fill="#000" stroke="#000" stroke-width="0.2" >4.30</text>
<text x="510.33" y="430.92" font-size="8.3" font-weight="normal" font-style="normal" text-anchor="start" fill="#000" stroke="#000" stroke-width="0.2" >4.24</text>
<text x="510.33" y="444.89" font-size="8.3" font-weight="normal" font-style="normal" text-anchor="start" fill="#000" stroke="#000" stroke-width="0.2" >4.18</text>
<text x="510.33" y="458.86" font-size="8.3" font-weight="normal" font-style="normal" text-anchor="start" fill="#000" stroke="#000" stroke-width="0.2" >4.12</text>
<text x="510.33" y="472.83" font-size="8.3" font-weight="normal" font-style="normal" text-anchor="start" fill="#000" stroke="#000" stroke-width="0.2" >4.06</text>
<text x="510.33" y="486.80" font-size="8.3" font-weight="normal" font-style="normal" text-anchor="start" fill="#000" stroke="#000" stroke-width="0.2" >4.00</text>
<text x="490.80" y="323.90" font-size="8.1" font-weight="normal" font-style="normal" text-anchor="start" fill="#000" stroke="#000" stroke-width="0.2" >Current density</text>
<text x="491.01" y="333.70" font-size="8.1" font-weight="normal" font-style="normal" text-anchor="start" fill="#000" stroke="#000" stroke-width="0.2" >(</text>
<text x="494.90" y="333.50" font-size="8.6" font-weight="normal" font-style="normal" text-anchor="start" fill="#444" stroke="#444" stroke-width="0.1" >×</text>
<text x="500.65" y="333.70" font-size="8.1" font-weight="normal" font-style="normal" text-anchor="start" fill="#000" stroke="#000" stroke-width="0.2" >10</text>
<text x="508.48" y="330.40" font-size="5.6" font-weight="normal" font-style="normal" text-anchor="start" fill="#000" stroke="#000" stroke-width="0.2" >-8</text>
<text x="515.90" y="333.70" font-size="8.1" font-weight="normal" font-style="normal" text-anchor="start" fill="#000" stroke="#000" stroke-width="0.2" >A/cm</text>
<text x="533.52" y="330.40" font-size="5.6" font-weight="normal" font-style="normal" text-anchor="start" fill="#000" stroke="#000" stroke-width="0.2" >2</text>
<text x="540.62" y="333.70" font-size="8.1" font-weight="normal" font-style="normal" text-anchor="start" fill="#000" stroke="#000" stroke-width="0.2" >)</text>
<line x1="286.20" y1="511.20" x2="286.20" y2="495.00" stroke="#333" stroke-width="1.0" />
<line x1="286.20" y1="511.20" x2="302.00" y2="511.20" stroke="#333" stroke-width="1.0" />
<polygon points="286.20,489.10 282.95,496.10 289.45,496.10" fill="#000" stroke="none" stroke-width="0" />
<polygon points="307.70,511.20 300.70,507.95 300.70,514.45" fill="#000" stroke="none" stroke-width="0" />
<text x="291.10" y="487.90" font-size="10" font-weight="normal" font-style="normal" text-anchor="start" fill="#000" stroke="#000" stroke-width="0.2" >y</text>
<text x="309.00" y="507.70" font-size="10" font-weight="normal" font-style="normal" text-anchor="start" fill="#000" stroke="#000" stroke-width="0.2" >x</text>
<text x="13.05" y="561.50" font-size="14.1" font-weight="normal" font-style="normal" text-anchor="start" fill="#000" stroke="#000" stroke-width="0.2" >(c)</text>
<text x="44.56" y="564.50" font-size="12.0" font-weight="bold" font-style="normal" text-anchor="start" fill="#000" stroke="#000" stroke-width="0.15" >Model 1</text>
<line x1="84.70" y1="577.80" x2="84.70" y2="716.10" stroke="#000" stroke-width="1.6" />
<line x1="83.90" y1="715.30" x2="243.10" y2="715.30" stroke="#000" stroke-width="1.6" />
<line x1="84.70" y1="715.30" x2="87.50" y2="715.30" stroke="#000" stroke-width="1.3" />
<text x="56.95" y="719.30" font-size="11.7" font-weight="normal" font-style="normal" text-anchor="start" fill="#000" stroke="#000" stroke-width="0.2" >4.00</text>
<line x1="84.70" y1="715.30" x2="84.70" y2="712.50" stroke="#000" stroke-width="1.3" />
<text x="81.37" y="729.50" font-size="11.9" font-weight="normal" font-style="normal" text-anchor="start" fill="#000" stroke="#000" stroke-width="0.2" >0</text>
<line x1="84.70" y1="681.12" x2="87.50" y2="681.12" stroke="#000" stroke-width="1.3" />
<text x="57.07" y="685.12" font-size="11.7" font-weight="normal" font-style="normal" text-anchor="start" fill="#000" stroke="#000" stroke-width="0.2" >4.25</text>
<line x1="124.30" y1="715.30" x2="124.30" y2="712.50" stroke="#000" stroke-width="1.3" />
<text x="116.03" y="729.50" font-size="11.9" font-weight="normal" font-style="normal" text-anchor="start" fill="#000" stroke="#000" stroke-width="0.2" >0.5</text>
<line x1="84.70" y1="646.95" x2="87.50" y2="646.95" stroke="#000" stroke-width="1.3" />
<text x="56.95" y="650.95" font-size="11.7" font-weight="normal" font-style="normal" text-anchor="start" fill="#000" stroke="#000" stroke-width="0.2" >4.50</text>
<line x1="163.90" y1="715.30" x2="163.90" y2="712.50" stroke="#000" stroke-width="1.3" />
<text x="155.39" y="729.50" font-size="11.9" font-weight="normal" font-style="normal" text-anchor="start" fill="#000" stroke="#000" stroke-width="0.2" >1.0</text>
<line x1="84.70" y1="612.77" x2="87.50" y2="612.77" stroke="#000" stroke-width="1.3" />
<text x="57.07" y="616.77" font-size="11.7" font-weight="normal" font-style="normal" text-anchor="start" fill="#000" stroke="#000" stroke-width="0.2" >4.75</text>
<line x1="203.50" y1="715.30" x2="203.50" y2="712.50" stroke="#000" stroke-width="1.3" />
<text x="194.99" y="729.50" font-size="11.9" font-weight="normal" font-style="normal" text-anchor="start" fill="#000" stroke="#000" stroke-width="0.2" >1.5</text>
<line x1="84.70" y1="578.60" x2="87.50" y2="578.60" stroke="#000" stroke-width="1.3" />
<text x="56.95" y="582.60" font-size="11.7" font-weight="normal" font-style="normal" text-anchor="start" fill="#000" stroke="#000" stroke-width="0.2" >5.00</text>
<line x1="243.10" y1="715.30" x2="243.10" y2="712.50" stroke="#000" stroke-width="1.3" />
<text x="234.77" y="729.50" font-size="11.9" font-weight="normal" font-style="normal" text-anchor="start" fill="#000" stroke="#000" stroke-width="0.2" >2.0</text>
<text x="110.00" y="749.00" font-size="11.8" font-weight="normal" font-style="normal" text-anchor="start" fill="#000" stroke="#000" stroke-width="0.2" >y: channel width (mm)</text>
<text transform="translate(35.0,645.4) rotate(-90)" font-size="11.8" text-anchor="middle" stroke="#000" stroke-width="0.2">Current density</text>
<text transform="translate(49.0,645.2) rotate(-90)" font-size="11.8" text-anchor="middle" stroke="#000" stroke-width="0.2">( <tspan font-size="11" stroke-width="0.1" fill="#333">×</tspan> 10<tspan font-size="7.5" dy="-4.5">-8</tspan><tspan dy="4.5"> A/cm</tspan><tspan font-size="7.5" dy="-4.5">2</tspan><tspan dy="4.5">)</tspan></text>
<path d="M84.70,643.57 L85.49,643.63 L86.28,643.70 L87.08,643.77 L87.87,643.85 L88.66,643.93 L89.45,644.02 L90.24,644.12 L91.04,644.22 L91.83,644.33 L92.62,644.44 L93.41,644.57 L94.20,644.70 L95.00,644.84 L95.79,644.99 L96.58,645.15 L97.37,645.32 L98.16,645.50 L98.96,645.69 L99.75,645.89 L100.54,646.11 L101.33,646.33 L102.12,646.57 L102.92,646.82 L103.71,647.08 L104.50,647.36 L105.29,647.65 L106.08,647.95 L106.88,648.27 L107.67,648.61 L108.46,648.96 L109.25,649.33 L110.04,649.71 L110.84,650.11 L111.63,650.53 L112.42,650.96 L113.21,651.42 L114.00,651.89 L114.80,652.37 L115.59,652.88 L116.38,653.40 L117.17,653.94 L117.96,654.50 L118.76,655.08 L119.55,655.67 L120.34,656.28 L121.13,656.91 L121.92,657.56 L122.72,658.22 L123.51,658.90 L124.30,659.60 L125.09,660.31 L125.88,661.03 L126.68,661.77 L127.47,662.53 L128.26,663.29 L129.05,664.07 L129.84,664.86 L130.64,665.66 L131.43,666.47 L132.22,667.29 L133.01,668.11 L133.80,668.94 L134.60,669.78 L135.39,670.61 L136.18,671.45 L136.97,672.29 L137.76,673.13 L138.56,673.97 L139.35,674.81 L140.14,675.64 L140.93,676.46 L141.72,677.27 L142.52,678.08 L143.31,678.87 L144.10,679.65 L144.89,680.41 L145.68,681.16 L146.48,681.89 L147.27,682.61 L148.06,683.30 L148.85,683.96 L149.64,684.61 L150.44,685.23 L151.23,685.82 L152.02,686.38 L152.81,686.91 L153.60,687.42 L154.40,687.89 L155.19,688.32 L155.98,688.73 L156.77,689.09 L157.56,689.43 L158.36,689.72 L159.15,689.98 L159.94,690.19 L160.73,690.37 L161.52,690.51 L162.32,690.61 L163.11,690.67 L163.90,690.69 L164.69,690.67 L165.48,690.61 L166.28,690.51 L167.07,690.37 L167.86,690.19 L168.65,689.98 L169.44,689.72 L170.24,689.43 L171.03,689.09 L171.82,688.73 L172.61,688.32 L173.40,687.89 L174.20,687.42 L174.99,686.91 L175.78,686.38 L176.57,685.82 L177.36,685.23 L178.16,684.61 L178.95,683.96 L179.74,683.30 L180.53,682.61 L181.32,681.89 L182.12,681.16 L182.91,680.41 L183.70,679.65 L184.49,678.87 L185.28,678.08 L186.08,677.27 L186.87,676.46 L187.66,675.64 L188.45,674.81 L189.24,673.97 L190.04,673.13 L190.83,672.29 L191.62,671.45 L192.41,670.61 L193.20,669.78 L194.00,668.94 L194.79,668.11 L195.58,667.29 L196.37,666.47 L197.16,665.66 L197.96,664.86 L198.75,664.07 L199.54,663.29 L200.33,662.53 L201.12,661.77 L201.92,661.03 L202.71,660.31 L203.50,659.60 L204.29,658.90 L205.08,658.22 L205.88,657.56 L206.67,656.91 L207.46,656.28 L208.25,655.67 L209.04,655.08 L209.84,654.50 L210.63,653.94 L211.42,653.40 L212.21,652.88 L213.00,652.37 L213.80,651.89 L214.59,651.42 L215.38,650.96 L216.17,650.53 L216.96,650.11 L217.76,649.71 L218.55,649.33 L219.34,648.96 L220.13,648.61 L220.92,648.27 L221.72,647.95 L222.51,647.65 L223.30,647.36 L224.09,647.08 L224.88,646.82 L225.68,646.57 L226.47,646.33 L227.26,646.11 L228.05,645.89 L228.84,645.69 L229.64,645.50 L230.43,645.32 L231.22,645.15 L232.01,644.99 L232.80,644.84 L233.60,644.70 L234.39,644.57 L235.18,644.44 L235.97,644.33 L236.76,644.22 L237.56,644.12 L238.35,644.02 L239.14,643.93 L239.93,643.85 L240.72,643.77 L241.52,643.70 L242.31,643.63 L243.10,643.57" fill="none" stroke="#000" stroke-width="2.6" stroke-linejoin="round"/>
<text x="144.1" y="620.7" font-size="11.5" stroke="#000" stroke-width="0.2"><tspan font-style="italic">ΔI</tspan> = 7.6%</text>
<text x="307.16" y="564.50" font-size="12.0" font-weight="bold" font-style="normal" text-anchor="start" fill="#000" stroke="#000" stroke-width="0.15" >Model 2</text>
<line x1="347.30" y1="577.80" x2="347.30" y2="716.10" stroke="#000" stroke-width="1.6" />
<line x1="346.50" y1="715.30" x2="505.70" y2="715.30" stroke="#000" stroke-width="1.6" />
<line x1="347.30" y1="715.30" x2="350.10" y2="715.30" stroke="#000" stroke-width="1.3" />
<text x="319.55" y="719.30" font-size="11.7" font-weight="normal" font-style="normal" text-anchor="start" fill="#000" stroke="#000" stroke-width="0.2" >4.00</text>
<line x1="347.30" y1="715.30" x2="347.30" y2="712.50" stroke="#000" stroke-width="1.3" />
<text x="343.97" y="729.50" font-size="11.9" font-weight="normal" font-style="normal" text-anchor="start" fill="#000" stroke="#000" stroke-width="0.2" >0</text>
<line x1="347.30" y1="681.12" x2="350.10" y2="681.12" stroke="#000" stroke-width="1.3" />
<text x="319.67" y="685.12" font-size="11.7" font-weight="normal" font-style="normal" text-anchor="start" fill="#000" stroke="#000" stroke-width="0.2" >4.25</text>
<line x1="386.90" y1="715.30" x2="386.90" y2="712.50" stroke="#000" stroke-width="1.3" />
<text x="378.63" y="729.50" font-size="11.9" font-weight="normal" font-style="normal" text-anchor="start" fill="#000" stroke="#000" stroke-width="0.2" >0.5</text>
<line x1="347.30" y1="646.95" x2="350.10" y2="646.95" stroke="#000" stroke-width="1.3" />
<text x="319.55" y="650.95" font-size="11.7" font-weight="normal" font-style="normal" text-anchor="start" fill="#000" stroke="#000" stroke-width="0.2" >4.50</text>
<line x1="426.50" y1="715.30" x2="426.50" y2="712.50" stroke="#000" stroke-width="1.3" />
<text x="417.99" y="729.50" font-size="11.9" font-weight="normal" font-style="normal" text-anchor="start" fill="#000" stroke="#000" stroke-width="0.2" >1.0</text>
<line x1="347.30" y1="612.77" x2="350.10" y2="612.77" stroke="#000" stroke-width="1.3" />
<text x="319.67" y="616.77" font-size="11.7" font-weight="normal" font-style="normal" text-anchor="start" fill="#000" stroke="#000" stroke-width="0.2" >4.75</text>
<line x1="466.10" y1="715.30" x2="466.10" y2="712.50" stroke="#000" stroke-width="1.3" />
<text x="457.59" y="729.50" font-size="11.9" font-weight="normal" font-style="normal" text-anchor="start" fill="#000" stroke="#000" stroke-width="0.2" >1.5</text>
<line x1="347.30" y1="578.60" x2="350.10" y2="578.60" stroke="#000" stroke-width="1.3" />
<text x="319.55" y="582.60" font-size="11.7" font-weight="normal" font-style="normal" text-anchor="start" fill="#000" stroke="#000" stroke-width="0.2" >5.00</text>
<line x1="505.70" y1="715.30" x2="505.70" y2="712.50" stroke="#000" stroke-width="1.3" />
<text x="497.37" y="729.50" font-size="11.9" font-weight="normal" font-style="normal" text-anchor="start" fill="#000" stroke="#000" stroke-width="0.2" >2.0</text>
<text x="372.60" y="749.00" font-size="11.8" font-weight="normal" font-style="normal" text-anchor="start" fill="#000" stroke="#000" stroke-width="0.2" >y: channel width (mm)</text>
<text transform="translate(297.6,645.4) rotate(-90)" font-size="11.8" text-anchor="middle" stroke="#000" stroke-width="0.2">Current density</text>
<text transform="translate(311.6,645.2) rotate(-90)" font-size="11.8" text-anchor="middle" stroke="#000" stroke-width="0.2">( <tspan font-size="11" stroke-width="0.1" fill="#333">×</tspan> 10<tspan font-size="7.5" dy="-4.5">-8</tspan><tspan dy="4.5"> A/cm</tspan><tspan font-size="7.5" dy="-4.5">2</tspan><tspan dy="4.5">)</tspan></text>
<path d="M347.30,637.12 L348.09,637.15 L348.88,637.18 L349.68,637.22 L350.47,637.25 L351.26,637.29 L352.05,637.32 L352.84,637.36 L353.64,637.41 L354.43,637.45 L355.22,637.50 L356.01,637.54 L356.80,637.60 L357.60,637.65 L358.39,637.71 L359.18,637.76 L359.97,637.83 L360.76,637.89 L361.56,637.96 L362.35,638.03 L363.14,638.10 L363.93,638.17 L364.72,638.25 L365.52,638.33 L366.31,638.42 L367.10,638.51 L367.89,638.60 L368.68,638.69 L369.48,638.79 L370.27,638.89 L371.06,639.00 L371.85,639.11 L372.64,639.22 L373.44,639.33 L374.23,639.45 L375.02,639.57 L375.81,639.70 L376.60,639.83 L377.40,639.96 L378.19,640.09 L378.98,640.23 L379.77,640.37 L380.56,640.52 L381.36,640.67 L382.15,640.82 L382.94,640.97 L383.73,641.13 L384.52,641.29 L385.32,641.45 L386.11,641.62 L386.90,641.78 L387.69,641.95 L388.48,642.12 L389.28,642.30 L390.07,642.47 L390.86,642.65 L391.65,642.82 L392.44,643.00 L393.24,643.18 L394.03,643.36 L394.82,643.54 L395.61,643.73 L396.40,643.91 L397.20,644.09 L397.99,644.27 L398.78,644.45 L399.57,644.63 L400.36,644.80 L401.16,644.98 L401.95,645.15 L402.74,645.33 L403.53,645.50 L404.32,645.66 L405.12,645.83 L405.91,645.99 L406.70,646.15 L407.49,646.30 L408.28,646.45 L409.08,646.60 L409.87,646.74 L410.66,646.88 L411.45,647.01 L412.24,647.14 L413.04,647.26 L413.83,647.37 L414.62,647.48 L415.41,647.59 L416.20,647.69 L417.00,647.78 L417.79,647.86 L418.58,647.94 L419.37,648.01 L420.16,648.07 L420.96,648.13 L421.75,648.18 L422.54,648.22 L423.33,648.26 L424.12,648.28 L424.92,648.30 L425.71,648.31 L426.50,648.32 L427.29,648.31 L428.08,648.30 L428.88,648.28 L429.67,648.26 L430.46,648.22 L431.25,648.18 L432.04,648.13 L432.84,648.07 L433.63,648.01 L434.42,647.94 L435.21,647.86 L436.00,647.78 L436.80,647.69 L437.59,647.59 L438.38,647.48 L439.17,647.37 L439.96,647.26 L440.76,647.14 L441.55,647.01 L442.34,646.88 L443.13,646.74 L443.92,646.60 L444.72,646.45 L445.51,646.30 L446.30,646.15 L447.09,645.99 L447.88,645.83 L448.68,645.66 L449.47,645.50 L450.26,645.33 L451.05,645.15 L451.84,644.98 L452.64,644.80 L453.43,644.63 L454.22,644.45 L455.01,644.27 L455.80,644.09 L456.60,643.91 L457.39,643.73 L458.18,643.54 L458.97,643.36 L459.76,643.18 L460.56,643.00 L461.35,642.82 L462.14,642.65 L462.93,642.47 L463.72,642.30 L464.52,642.12 L465.31,641.95 L466.10,641.78 L466.89,641.62 L467.68,641.45 L468.48,641.29 L469.27,641.13 L470.06,640.97 L470.85,640.82 L471.64,640.67 L472.44,640.52 L473.23,640.37 L474.02,640.23 L474.81,640.09 L475.60,639.96 L476.40,639.83 L477.19,639.70 L477.98,639.57 L478.77,639.45 L479.56,639.33 L480.36,639.22 L481.15,639.11 L481.94,639.00 L482.73,638.89 L483.52,638.79 L484.32,638.69 L485.11,638.60 L485.90,638.51 L486.69,638.42 L487.48,638.33 L488.28,638.25 L489.07,638.17 L489.86,638.10 L490.65,638.03 L491.44,637.96 L492.24,637.89 L493.03,637.83 L493.82,637.76 L494.61,637.71 L495.40,637.65 L496.20,637.60 L496.99,637.54 L497.78,637.50 L498.57,637.45 L499.36,637.41 L500.16,637.36 L500.95,637.32 L501.74,637.29 L502.53,637.25 L503.32,637.22 L504.12,637.18 L504.91,637.15 L505.70,637.12" fill="none" stroke="#000" stroke-width="2.6" stroke-linejoin="round"/>
<text x="410.7" y="620.7" font-size="11.5" stroke="#000" stroke-width="0.2"><tspan font-style="italic">ΔI</tspan> = 1.9%</text>
</svg>
</body></html>
